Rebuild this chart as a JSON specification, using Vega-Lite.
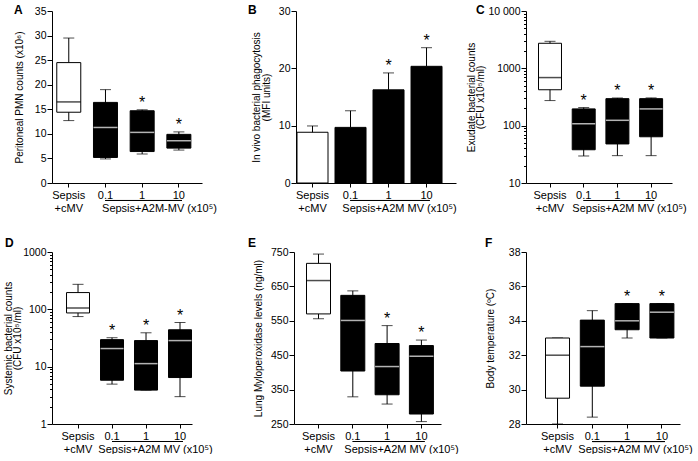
{
  "$schema": "https://vega.github.io/schema/vega-lite/v6.json",
  "padding": {"left": 3, "top": 3, "right": 0, "bottom": 0},
  "config": {
    "font": "Liberation Sans",
    "view": {"stroke": null},
    "axis": {"labelFont": "Liberation Sans", "titleFont": "Liberation Sans", "labelFontSize": 11, "titleFontSize": 11, "titleFontWeight": "normal", "labelColor": "black", "titleColor": "black", "domainColor": "black", "tickColor": "black", "grid": false, "labelPadding": 2, "titlePadding": 6, "labelOverlap": false},
    "axisX": {"labelAngle": 0, "tickSize": 4, "labelLineHeight": 13, "titleX": 105, "titleY": 28, "titleBaseline": "alphabetic", "titleAlign": "center"},
    "axisY": {"tickSize": 5, "labelOverlap": false, "labelFontSize": 10.5, "labelPadding": 1, "titleFontSize": 10, "titleLineHeight": 9.5},
    "title": {"font": "Liberation Sans", "fontSize": 12, "fontWeight": "bold", "anchor": "start", "frame": "group", "color": "black", "offset": -10.5},
    "text": {"font": "Liberation Sans"}
  },
  "datasets": {
    "A": [
      {"group": "Sepsis+cMV", "min": 12.7, "q1": 14.4, "median": 16.5, "q3": 24.5, "max": 29.5, "sig": ""},
      {"group": "0.1", "min": 4.9, "q1": 5.2, "median": 11.3, "q3": 16.4, "max": 19.0, "sig": ""},
      {"group": "1", "min": 5.9, "q1": 6.4, "median": 10.3, "q3": 14.7, "max": 14.9, "sig": "*"},
      {"group": "10", "min": 6.7, "q1": 7.1, "median": 8.6, "q3": 9.9, "max": 10.4, "sig": "*"}
    ],
    "B": [
      {"group": "Sepsis+cMV", "mean": 8.85, "hi": 9.95, "sig": ""},
      {"group": "0.1", "mean": 9.7, "hi": 12.6, "sig": ""},
      {"group": "1", "mean": 16.25, "hi": 19.2, "sig": "*"},
      {"group": "10", "mean": 20.35, "hi": 23.6, "sig": "*"}
    ],
    "C": [
      {"group": "Sepsis+cMV", "min": 274, "q1": 423, "median": 690, "q3": 2735, "max": 2960, "sig": ""},
      {"group": "0.1", "min": 29.6, "q1": 38, "median": 108, "q3": 196, "max": 207, "sig": "*"},
      {"group": "1", "min": 30, "q1": 48, "median": 124, "q3": 296, "max": 304, "sig": "*"},
      {"group": "10", "min": 30, "q1": 64, "median": 196, "q3": 296, "max": 305, "sig": "*"}
    ],
    "D": [
      {"group": "Sepsis+cMV", "min": 74.8, "q1": 86.5, "median": 105, "q3": 196, "max": 273, "sig": ""},
      {"group": "0.1", "min": 4.96, "q1": 5.8, "median": 20.7, "q3": 29.6, "max": 32, "sig": "*"},
      {"group": "1", "min": 3.9, "q1": 3.9, "median": 11.3, "q3": 28.5, "max": 39, "sig": "*"},
      {"group": "10", "min": 3.0, "q1": 6.46, "median": 28.5, "q3": 44, "max": 58.9, "sig": "*"}
    ],
    "E": [
      {"group": "Sepsis+cMV", "min": 556, "q1": 570, "median": 667, "q3": 717, "max": 744, "sig": ""},
      {"group": "0.1", "min": 329, "q1": 404, "median": 551, "q3": 624, "max": 637, "sig": ""},
      {"group": "1", "min": 308, "q1": 335, "median": 417, "q3": 484, "max": 536, "sig": "*"},
      {"group": "10", "min": 257, "q1": 279, "median": 447, "q3": 478, "max": 494, "sig": "*"}
    ],
    "F": [
      {"group": "Sepsis+cMV", "min": 28, "q1": 29.5, "median": 32.0, "q3": 33, "max": 33, "sig": ""},
      {"group": "0.1", "min": 28.4, "q1": 30.2, "median": 32.5, "q3": 34.04, "max": 34.59, "sig": ""},
      {"group": "1", "min": 33.0, "q1": 33.48, "median": 34.0, "q3": 35, "max": 35, "sig": "*"},
      {"group": "10", "min": 33, "q1": 33, "median": 34.5, "q3": 35, "max": 35, "sig": "*"}
    ]
  },
  "columns": 2,
  "align": "none",
  "spacing": {"row": 23, "column": 31},
  "concat": [
    {
      "title": {"text": "A", "dx": -38},
      "width": 150, "height": 172,
      "data": {"name": "A"},
      "encoding": {"x": {"field": "group", "type": "nominal", "sort": null, "scale": {"domain": ["Sepsis+cMV", "0.1", "1", "10"], "paddingInner": 0.346, "paddingOuter": 0.2166, "align": 0.3}, "axis": {"title": "Sepsis+A2M-MV (x10⁵)", "titleX": 107, "labelExpr": "datum.value == 'Sepsis+cMV' ? ['Sepsis', '+cMV'] : datum.label"}}},
      "layer": [
        {"mark": {"type": "rule", "color": "black"}, "encoding": {"y": {"field": "min", "type": "quantitative", "scale": {"domain": [0, 35], "nice": false, "zero": false}, "axis": {"title": "Peritoneal PMN counts (x10⁶)", "titlePadding": 10.3, "values": [0, 5, 10, 15, 20, 25, 30, 35], "format": "d", "tickCount": 40, "labelOverlap": false}}, "y2": {"field": "max"}}},
        {"mark": {"type": "tick", "color": "black", "size": 11, "thickness": 1}, "encoding": {"y": {"field": "min", "type": "quantitative"}}},
        {"mark": {"type": "tick", "color": "black", "size": 11, "thickness": 1}, "encoding": {"y": {"field": "max", "type": "quantitative"}}},
        {"mark": {"type": "bar", "stroke": "black", "strokeWidth": 1}, "encoding": {"y": {"field": "q1", "type": "quantitative"}, "y2": {"field": "q3"}, "fill": {"condition": {"test": "datum.group == 'Sepsis+cMV'", "value": "white"}, "value": "black"}}},
        {"mark": {"type": "tick", "size": 24, "thickness": 1.5}, "encoding": {"y": {"field": "median", "type": "quantitative"}, "color": {"condition": {"test": "datum.group == 'Sepsis+cMV'", "value": "black"}, "value": "white"}}},
        {"transform": [{"filter": "datum.sig == '*'"}], "mark": {"type": "text", "fontSize": 16, "dy": -2, "baseline": "alphabetic", "color": "black"}, "encoding": {"y": {"field": "max", "type": "quantitative"}, "text": {"field": "sig"}}},
        {"mark": {"type": "rule", "color": "black", "x2Offset": 3}, "encoding": {"x": {"datum": "0.1"}, "x2": {"datum": "10"}, "y": {"datum": -3.56}}}
      ]
    },
    {
      "spacing": 9,
      "hconcat": [
        {
          "title": {"text": "B", "dx": -48},
          "width": 160, "height": 172,
          "data": {"name": "B"},
          "encoding": {"x": {"field": "group", "type": "nominal", "sort": null, "scale": {"domain": ["Sepsis+cMV", "0.1", "1", "10"], "paddingInner": 0.184, "paddingOuter": 0.197, "align": 0.067}, "axis": {"title": "Sepsis+A2M MV (x10⁵)", "titleX": 103, "labelExpr": "datum.value == 'Sepsis+cMV' ? ['Sepsis', '+cMV'] : datum.label"}}},
          "layer": [
            {"mark": {"type": "bar", "stroke": "black", "strokeWidth": 1}, "encoding": {"y": {"field": "mean", "type": "quantitative", "scale": {"domain": [0, 30], "nice": false}, "axis": {"title": ["In vivo bacterial phagocytosis", "(MFI units)"], "titlePadding": 7, "values": [0, 10, 20, 30], "format": "d", "tickCount": 40, "labelOverlap": false}}, "fill": {"condition": {"test": "datum.group == 'Sepsis+cMV'", "value": "white"}, "value": "black"}}},
            {"mark": {"type": "rule", "color": "black"}, "encoding": {"y": {"field": "mean", "type": "quantitative"}, "y2": {"field": "hi"}}},
            {"mark": {"type": "tick", "color": "black", "size": 11, "thickness": 1}, "encoding": {"y": {"field": "hi", "type": "quantitative"}}},
            {"transform": [{"filter": "datum.sig == '*'"}], "mark": {"type": "text", "fontSize": 16, "dy": -2, "baseline": "alphabetic", "color": "black"}, "encoding": {"y": {"field": "hi", "type": "quantitative"}, "text": {"field": "sig"}}},
            {"mark": {"type": "rule", "color": "black", "x2Offset": 3}, "encoding": {"x": {"datum": "0.1"}, "x2": {"datum": "10"}, "y": {"datum": -3.05}}}
          ]
        },
        {
          "title": {"text": "C", "dx": -50},
          "width": 146, "height": 172,
          "data": {"name": "C"},
          "encoding": {"x": {"field": "group", "type": "nominal", "sort": null, "scale": {"domain": ["Sepsis+cMV", "0.1", "1", "10"], "paddingInner": 0.318, "paddingOuter": 0.325, "align": 0.571}, "axis": {"title": "Sepsis+A2M MV (x10⁵)", "titleX": 103, "labelExpr": "datum.value == 'Sepsis+cMV' ? ['Sepsis', '+cMV'] : datum.label"}}},
          "layer": [
            {"mark": {"type": "rule", "color": "black"}, "encoding": {"y": {"field": "min", "type": "quantitative", "scale": {"type": "log", "domain": [10, 10000], "nice": false}, "axis": {"title": ["Exudate bacterial counts", "(CFU x10⁵/ml)"], "titlePadding": 2, "labelOverlap": false, "tickCount": 100, "values": [10, 20, 30, 40, 50, 60, 70, 80, 90, 100, 200, 300, 400, 500, 600, 700, 800, 900, 1000, 2000, 3000, 4000, 5000, 6000, 7000, 8000, 9000, 10000], "labelExpr": "abs(log(datum.value)/LN10 - round(log(datum.value)/LN10)) < 0.001 ? (datum.value == 10000 ? '10 000' : format(datum.value, 'd')) : ''", "tickSize": {"condition": {"test": "abs(log(datum.value)/LN10 - round(log(datum.value)/LN10)) < 0.001", "value": 5}, "value": 2.5}}}, "y2": {"field": "max"}}},
            {"mark": {"type": "tick", "color": "black", "size": 11, "thickness": 1}, "encoding": {"y": {"field": "min", "type": "quantitative"}}},
            {"mark": {"type": "tick", "color": "black", "size": 11, "thickness": 1}, "encoding": {"y": {"field": "max", "type": "quantitative"}}},
            {"mark": {"type": "bar", "stroke": "black", "strokeWidth": 1}, "encoding": {"y": {"field": "q1", "type": "quantitative"}, "y2": {"field": "q3"}, "fill": {"condition": {"test": "datum.group == 'Sepsis+cMV'", "value": "white"}, "value": "black"}}},
            {"mark": {"type": "tick", "size": 23, "thickness": 1.5}, "encoding": {"y": {"field": "median", "type": "quantitative"}, "color": {"condition": {"test": "datum.group == 'Sepsis+cMV'", "value": "black"}, "value": "white"}}},
            {"transform": [{"filter": "datum.sig == '*'"}], "mark": {"type": "text", "fontSize": 16, "dy": -2, "baseline": "alphabetic", "color": "black"}, "encoding": {"y": {"field": "max", "type": "quantitative"}, "text": {"field": "sig"}}},
            {"mark": {"type": "rule", "color": "black", "x2Offset": 3}, "encoding": {"x": {"datum": "0.1"}, "x2": {"datum": "10"}, "y": {"datum": 4.95}}}
          ]
        }
      ]
    },
    {
      "title": {"text": "D", "dx": -47, "offset": -2.5},
      "width": 140, "height": 172,
      "data": {"name": "D"},
      "encoding": {"x": {"field": "group", "type": "nominal", "sort": null, "scale": {"domain": ["Sepsis+cMV", "0.1", "1", "10"], "paddingInner": 0.324, "paddingOuter": 0.221, "align": 0.967}, "axis": {"title": "Sepsis+A2M MV (x10⁵)", "titleX": 103, "labelExpr": "datum.value == 'Sepsis+cMV' ? ['Sepsis', '+cMV'] : datum.label"}}},
      "layer": [
        {"mark": {"type": "rule", "color": "black"}, "encoding": {"y": {"field": "min", "type": "quantitative", "scale": {"type": "log", "domain": [1, 1000], "nice": false}, "axis": {"title": ["Systemic bacterial counts", "(CFU x10⁵/ml)"], "titlePadding": 0, "labelOverlap": false, "tickCount": 100, "values": [1, 2, 3, 4, 5, 6, 7, 8, 9, 10, 20, 30, 40, 50, 60, 70, 80, 90, 100, 200, 300, 400, 500, 600, 700, 800, 900, 1000], "labelExpr": "abs(log(datum.value)/LN10 - round(log(datum.value)/LN10)) < 0.001 ? format(datum.value, 'd') : ''", "tickSize": {"condition": {"test": "abs(log(datum.value)/LN10 - round(log(datum.value)/LN10)) < 0.001", "value": 5}, "value": 2.5}}}, "y2": {"field": "max"}}},
        {"mark": {"type": "tick", "color": "black", "size": 11, "thickness": 1}, "encoding": {"y": {"field": "min", "type": "quantitative"}}},
        {"mark": {"type": "tick", "color": "black", "size": 11, "thickness": 1}, "encoding": {"y": {"field": "max", "type": "quantitative"}}},
        {"mark": {"type": "bar", "stroke": "black", "strokeWidth": 1}, "encoding": {"y": {"field": "q1", "type": "quantitative"}, "y2": {"field": "q3"}, "fill": {"condition": {"test": "datum.group == 'Sepsis+cMV'", "value": "white"}, "value": "black"}}},
        {"mark": {"type": "tick", "size": 23, "thickness": 1.5}, "encoding": {"y": {"field": "median", "type": "quantitative"}, "color": {"condition": {"test": "datum.group == 'Sepsis+cMV'", "value": "black"}, "value": "white"}}},
        {"transform": [{"filter": "datum.sig == '*'"}], "mark": {"type": "text", "fontSize": 16, "dy": -2, "baseline": "alphabetic", "color": "black"}, "encoding": {"y": {"field": "max", "type": "quantitative"}, "text": {"field": "sig"}}},
        {"mark": {"type": "rule", "color": "black", "x2Offset": 3}, "encoding": {"x": {"datum": "0.1"}, "x2": {"datum": "10"}, "y": {"datum": 0.495}}}
      ]
    },
    {
      "spacing": 26,
      "hconcat": [
        {
          "title": {"text": "E", "dx": -46, "offset": -2.5},
          "width": 147, "height": 172,
          "data": {"name": "E"},
          "encoding": {"x": {"field": "group", "type": "nominal", "sort": null, "scale": {"domain": ["Sepsis+cMV", "0.1", "1", "10"], "paddingInner": 0.30, "paddingOuter": 0.293, "align": 0.622}, "axis": {"title": "Sepsis+A2M MV (x10⁵)", "titleX": 107, "labelExpr": "datum.value == 'Sepsis+cMV' ? ['Sepsis', '+cMV'] : datum.label"}}},
          "layer": [
            {"mark": {"type": "rule", "color": "black"}, "encoding": {"y": {"field": "min", "type": "quantitative", "scale": {"domain": [250, 750], "nice": false, "zero": false}, "axis": {"title": "Lung Myloperoxidase levels (ng/ml)", "titlePadding": 6.5, "values": [250, 350, 450, 550, 650, 750], "format": "d", "tickCount": 40, "labelOverlap": false}}, "y2": {"field": "max"}}},
            {"mark": {"type": "tick", "color": "black", "size": 11, "thickness": 1}, "encoding": {"y": {"field": "min", "type": "quantitative"}}},
            {"mark": {"type": "tick", "color": "black", "size": 11, "thickness": 1}, "encoding": {"y": {"field": "max", "type": "quantitative"}}},
            {"mark": {"type": "bar", "stroke": "black", "strokeWidth": 1}, "encoding": {"y": {"field": "q1", "type": "quantitative"}, "y2": {"field": "q3"}, "fill": {"condition": {"test": "datum.group == 'Sepsis+cMV'", "value": "white"}, "value": "black"}}},
            {"mark": {"type": "tick", "size": 24, "thickness": 1.5}, "encoding": {"y": {"field": "median", "type": "quantitative"}, "color": {"condition": {"test": "datum.group == 'Sepsis+cMV'", "value": "black"}, "value": "white"}}},
            {"transform": [{"filter": "datum.sig == '*'"}], "mark": {"type": "text", "fontSize": 16, "dy": -2, "baseline": "alphabetic", "color": "black"}, "encoding": {"y": {"field": "max", "type": "quantitative"}, "text": {"field": "sig"}}},
            {"mark": {"type": "rule", "color": "black", "x2Offset": 3}, "encoding": {"x": {"datum": "0.1"}, "x2": {"datum": "10"}, "y": {"datum": 199.1}}}
          ]
        },
        {
          "title": {"text": "F", "dx": -41, "offset": -2.5},
          "width": 154, "height": 172,
          "data": {"name": "F"},
          "encoding": {"x": {"field": "group", "type": "nominal", "sort": null, "scale": {"domain": ["Sepsis+cMV", "0.1", "1", "10"], "paddingInner": 0.31, "paddingOuter": 0.368, "align": 0.762}, "axis": {"title": "Sepsis+A2M MV (x10⁵)", "titleX": 109, "labelExpr": "datum.value == 'Sepsis+cMV' ? ['Sepsis', '+cMV'] : datum.label"}}},
          "layer": [
            {"mark": {"type": "rule", "color": "black"}, "encoding": {"y": {"field": "min", "type": "quantitative", "scale": {"domain": [28, 38], "nice": false, "zero": false}, "axis": {"title": "Body temperature (ºC)", "titlePadding": 13, "values": [28, 30, 32, 34, 36, 38], "format": "d", "tickCount": 40, "labelOverlap": false}}, "y2": {"field": "max"}}},
            {"mark": {"type": "tick", "color": "black", "size": 11, "thickness": 1}, "encoding": {"y": {"field": "min", "type": "quantitative"}}},
            {"mark": {"type": "tick", "color": "black", "size": 11, "thickness": 1}, "encoding": {"y": {"field": "max", "type": "quantitative"}}},
            {"mark": {"type": "bar", "stroke": "black", "strokeWidth": 1}, "encoding": {"y": {"field": "q1", "type": "quantitative"}, "y2": {"field": "q3"}, "fill": {"condition": {"test": "datum.group == 'Sepsis+cMV'", "value": "white"}, "value": "black"}}},
            {"mark": {"type": "tick", "size": 24, "thickness": 1.5}, "encoding": {"y": {"field": "median", "type": "quantitative"}, "color": {"condition": {"test": "datum.group == 'Sepsis+cMV'", "value": "black"}, "value": "white"}}},
            {"transform": [{"filter": "datum.sig == '*'"}], "mark": {"type": "text", "fontSize": 16, "dy": -2, "baseline": "alphabetic", "color": "black"}, "encoding": {"y": {"field": "max", "type": "quantitative"}, "text": {"field": "sig"}}},
            {"mark": {"type": "rule", "color": "black", "x2Offset": 3}, "encoding": {"x": {"datum": "0.1"}, "x2": {"datum": "10"}, "y": {"datum": 26.98}}}
          ]
        }
      ]
    }
  ]
}
